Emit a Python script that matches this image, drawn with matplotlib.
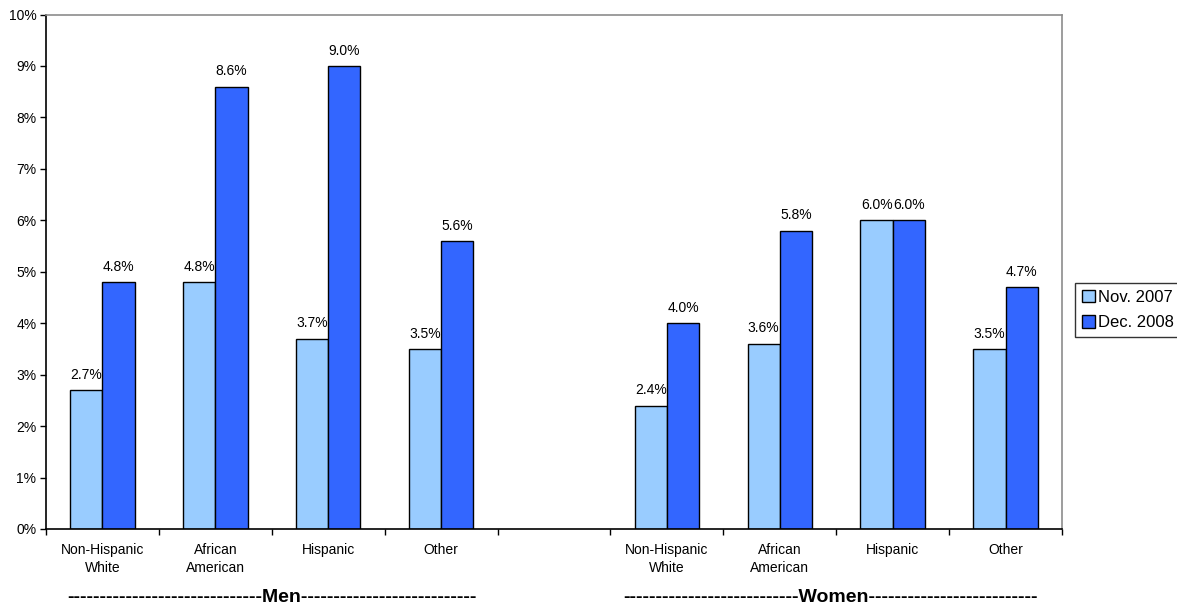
import matplotlib
matplotlib.use("Agg")
import matplotlib.pyplot as plt
import numpy as np
from matplotlib.ticker import FixedLocator, FuncFormatter

plt.rcParams['font.family'] = ['Liberation Sans', 'DejaVu Sans']

categories = ["Non-Hispanic\nWhite", "African\nAmerican", "Hispanic", "Other"]
groups = ["Men", "Women"]
series_names = ["Nov. 2007", "Dec. 2008"]
men_nov2007 = [2.7, 4.8, 3.7, 3.5]
men_dec2008 = [4.8, 8.6, 9.0, 5.6]
women_nov2007 = [2.4, 3.6, 6.0, 3.5]
women_dec2008 = [4.0, 5.8, 6.0, 4.7]
yticks = list(range(0, 11))

colors = ["#99CCFF", "#3366FF"]

W, H = 1177, 606
fig = plt.figure(figsize=(W / 100, H / 100), dpi=100)
ax = fig.add_axes([46 / W, 1 - 529 / H, (1062 - 46) / W, (529 - 14.5) / H])

# slot positions: men 0-3, gap 4, women 5-8
x_men = np.arange(4)
x_women = np.arange(5, 9)
xs = np.concatenate([x_men, x_women])
nov = men_nov2007 + women_nov2007
dec = men_dec2008 + women_dec2008

bw = 0.285
b1 = ax.bar(xs - bw / 2, nov, bw, color=colors[0], edgecolor="black", linewidth=1.0, label=series_names[0])
b2 = ax.bar(xs + bw / 2, dec, bw, color=colors[1], edgecolor="black", linewidth=1.0, label=series_names[1])

for bars, vals in ((b1, nov), (b2, dec)):
    for rect, v in zip(bars, vals):
        ax.annotate(f"{v:.1f}%", (rect.get_x() + rect.get_width() / 2, v),
                    xytext=(0, 6), textcoords="offset points",
                    ha="center", va="bottom", fontsize=10)

ax.set_xlim(-0.5, 8.5)
ax.set_ylim(0, 10)
ax.set_yticks(yticks)
ax.yaxis.set_major_formatter(FuncFormatter(lambda v, p: f"{int(v)}%"))
ax.tick_params(axis="y", direction="out", length=4, width=1, labelsize=10, pad=3)

ax.xaxis.set_major_locator(FixedLocator(list(xs)))
ax.set_xticklabels(categories + categories, fontsize=10, linespacing=1.4)
ax.xaxis.set_minor_locator(FixedLocator(list(np.arange(-0.5, 9.0, 1.0))))
ax.tick_params(axis="x", which="major", length=0, pad=10)
ax.tick_params(axis="x", which="minor", direction="out", length=4, width=1)

for s in ("left", "bottom"):
    ax.spines[s].set_color("black")
    ax.spines[s].set_linewidth(1.2)
for s in ("top", "right"):
    ax.spines[s].set_color("#8c8c8c")
    ax.spines[s].set_linewidth(1.2)

# group labels
ax.text(1.5, -0.134, "-" * 30 + groups[0] + "-" * 27, transform=ax.get_xaxis_transform(),
        ha="center", va="center", fontsize=14, fontweight="bold")
ax.text(6.45, -0.134, "-" * 27 + groups[1] + "-" * 26, transform=ax.get_xaxis_transform(),
        ha="center", va="center", fontsize=14, fontweight="bold")

leg = fig.legend(handles=[b1, b2], labels=series_names, loc="upper left",
                 bbox_to_anchor=(1075 / W, 1 - 283 / H), fontsize=12,
                 frameon=True, fancybox=False, edgecolor="black",
                 handlelength=0.8, handleheight=0.8, handletextpad=0.2,
                 borderpad=0.4, labelspacing=0.6, borderaxespad=0)
leg.get_frame().set_linewidth(1.0)

fig.savefig("out.png", dpi=100)
